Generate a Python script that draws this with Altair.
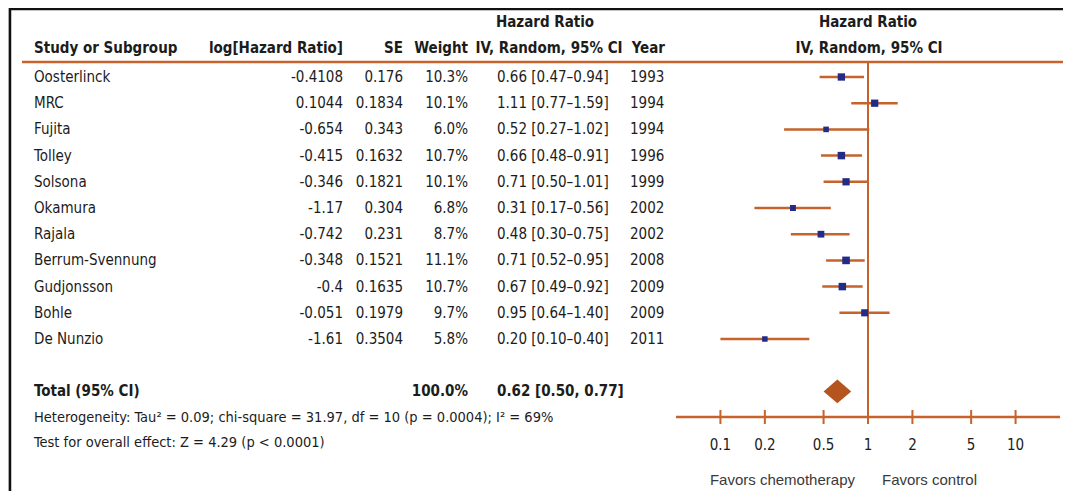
import altair as alt
import pandas as pd

# ---------------- data ----------------
studies = ["Oosterlinck", "MRC", "Fujita", "Tolley", "Solsona", "Okamura",
           "Rajala", "Berrum-Svennung", "Gudjonsson", "Bohle", "De Nunzio"]
log_hr = ["-0.4108", "0.1044", "-0.654", "-0.415", "-0.346", "-1.17",
          "-0.742", "-0.348", "-0.4", "-0.051", "-1.61"]
se = ["0.176", "0.1834", "0.343", "0.1632", "0.1821", "0.304",
      "0.231", "0.1521", "0.1635", "0.1979", "0.3504"]
weight = [10.3, 10.1, 6.0, 10.7, 10.1, 6.8, 8.7, 11.1, 10.7, 9.7, 5.8]
hr = [0.66, 1.11, 0.52, 0.66, 0.71, 0.31, 0.48, 0.71, 0.67, 0.95, 0.20]
ci_lo = [0.47, 0.77, 0.27, 0.48, 0.50, 0.17, 0.30, 0.52, 0.49, 0.64, 0.10]
ci_hi = [0.94, 1.59, 1.02, 0.91, 1.01, 0.56, 0.75, 0.95, 0.92, 1.40, 0.40]
years = [1993, 1994, 1994, 1996, 1999, 2002, 2002, 2008, 2009, 2009, 2011]

total_hr, total_lo, total_hi = 0.62, 0.50, 0.77
total_weight = "100.0%"
tick_values = [0.1, 0.2, 0.5, 1, 2, 5, 10]
tick_labels = ["0.1", "0.2", "0.5", "1", "2", "5", "10"]
x_domain = [0.05, 20]
null_effect = 1
heterogeneity = "Heterogeneity: Tau\u00b2 = 0.09; chi-square = 31.97, df = 10 (p = 0.0004); I\u00b2 = 69%"
overall = "Test for overall effect: Z = 4.29 (p < 0.0001)"

# ---------------- tables ----------------
df = pd.DataFrame({
    "study": studies, "loghr": log_hr, "se": se, "weight": weight,
    "hr": hr, "lo": ci_lo, "hi": ci_hi, "year": [str(y) for y in years],
})
df["row"] = range(len(studies))
df["wlabel"] = [f"{w:.1f}%" for w in weight]
df["cilabel"] = [f"{h:.2f} [{l:.2f}\u2013{u:.2f}]" for h, l, u in zip(hr, ci_lo, ci_hi)]

total_row = len(studies) + 1
half = 0.45
diamond = pd.DataFrame({
    "x": [total_lo, total_hr, total_hi],
    "y": [total_row, total_row - half, total_row],
    "y2": [total_row, total_row + half, total_row],
})
total_df = pd.DataFrame({
    "row": [total_row], "w": [total_weight],
    "name": ["Total (95% CI)"],
    "ci": [f"{total_hr:.2f} [{total_lo:.2f}, {total_hi:.2f}]"],
})
ticks_df = pd.DataFrame({"t": tick_values, "lab": tick_labels})
ref_df = pd.DataFrame({"v": [null_effect]})
axis_df = pd.DataFrame({"a": [x_domain[0]], "b": [x_domain[1]]})
one = pd.DataFrame({"k": [0]})

# ---------------- style ----------------
FONT = "Liberation Sans Narrow, DejaVu Sans Condensed, sans-serif"
ORANGE = "#C6632D"
DIAMOND = "#B4541E"
NAVY = "#222C86"
TEXT = "#1c1c1c"
FS = 15

xscale = alt.Scale(type="log", domain=x_domain, range=[668, 1052])
yscale = alt.Scale(domain=[0, 10], range=[69, 331], zero=False, nice=False)


def X(f):
    return alt.X(f, type="quantitative", scale=xscale, axis=None)


def Y(f):
    return alt.Y(f, type="quantitative", scale=yscale, axis=None)


base = alt.Chart(df)
tbase = alt.Chart(total_df)


def col(src, field, x, align, bold=False):
    return src.mark_text(align=align, baseline="middle", font=FONT, fontSize=FS,
                         color=TEXT, fontWeight="bold" if bold else "normal").encode(
        x=alt.value(x), y=Y("row"), text=alt.Text(field))


def label(txt, x, y, align="left", bold=True, size=FS, font=FONT, color=TEXT):
    return alt.Chart(pd.DataFrame({"t": [txt]})).mark_text(
        align=align, baseline="middle", font=font, fontSize=size, color=color,
        fontWeight="bold" if bold else "normal").encode(
        x=alt.value(x), y=alt.value(y), text="t:N")


ci = base.mark_rule(color=ORANGE, strokeWidth=2.5).encode(x=X("lo"), x2="hi", y=Y("row"))
sq = base.mark_square(color=NAVY, opacity=1, filled=True).encode(
    x=X("hr"), y=Y("row"),
    size=alt.Size("weight:Q", scale=alt.Scale(domain=[0, 11.1], range=[0, 58]), legend=None))

dia = alt.Chart(diamond).mark_area(color=DIAMOND, opacity=1).encode(
    x=X("x"), y=Y("y"), y2="y2")

vline = alt.Chart(ref_df).mark_rule(color=ORANGE, strokeWidth=2).encode(
    x=X("v"), y=alt.value(54), y2=alt.value(409))
axis_line = alt.Chart(axis_df).mark_rule(color=ORANGE, strokeWidth=2.5).encode(
    x=X("a"), x2="b", y=alt.value(409))
tick_marks = alt.Chart(ticks_df).mark_rule(color=ORANGE, strokeWidth=2).encode(
    x=X("t"), y=alt.value(402), y2=alt.value(416))
tick_text = alt.Chart(ticks_df).mark_text(font=FONT, fontSize=FS, color=TEXT,
                                          baseline="middle").encode(
    x=X("t"), y=alt.value(437), text="lab:N")

header_line = alt.Chart(one).mark_rule(color=ORANGE, strokeWidth=2.5).encode(
    x=alt.value(14), x2=alt.value(1055), y=alt.value(54))
frame_top = alt.Chart(one).mark_rule(color="#111111", strokeWidth=2.5).encode(
    x=alt.value(2), x2=alt.value(1055), y=alt.value(1))
frame_left = alt.Chart(one).mark_rule(color="#111111", strokeWidth=2.5).encode(
    x=alt.value(2), y=alt.value(0), y2=alt.value(483))

layers = [
    frame_top, frame_left, header_line,
    label("Study or Subgroup", 26, 40),
    label("log[Hazard Ratio]", 335, 40, align="right"),
    label("SE", 395, 40, align="right"),
    label("Weight", 460, 40, align="right"),
    label("Hazard Ratio", 537, 14, align="center"),
    label("IV, Random, 95% CI", 541, 40, align="center"),
    label("Year", 657, 40, align="right"),
    label("Hazard Ratio", 860, 14, align="center"),
    label("IV, Random, 95% CI", 861, 40, align="center"),
    col(base, "study:N", 26, "left"),
    col(base, "loghr:N", 335, "right"),
    col(base, "se:N", 395, "right"),
    col(base, "wlabel:N", 460, "right"),
    col(base, "cilabel:N", 489, "left"),
    col(base, "year:N", 622, "left"),
    vline, ci, sq, dia, axis_line, tick_marks, tick_text,
    col(tbase, "name:N", 26, "left", bold=True),
    col(tbase, "w:N", 460, "right", bold=True),
    col(tbase, "ci:N", 489, "left", bold=True),
    label(heterogeneity, 26, 410, bold=False, size=14.5),
    label(overall, 26, 435, bold=False, size=14.5),
    label("Favors chemotherapy", 847, 472, align="right", bold=False, size=15,
          font="Liberation Sans, Arial, sans-serif", color="#3a3a3a"),
    label("Favors control", 874, 472, align="left", bold=False, size=15,
          font="Liberation Sans, Arial, sans-serif", color="#3a3a3a"),
]

chart = alt.layer(*layers).properties(
    width=1055, height=483, padding=0,
    autosize=alt.AutoSizeParams(type="none"),
).configure_view(stroke=None).configure(background="white")

chart.save("out.html", embed_options={"renderer": "svg", "actions": False})
